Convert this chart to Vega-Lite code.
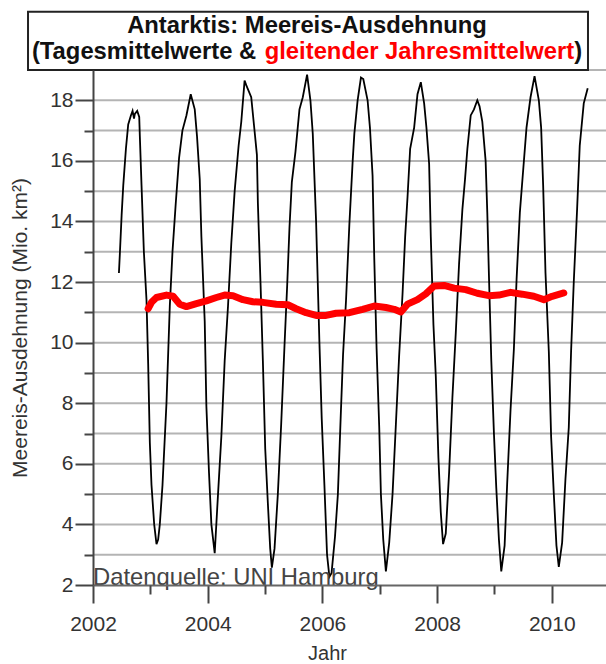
{
  "$schema": "https://vega.github.io/schema/vega-lite/v6.json",
  "width": 513,
  "height": 515,
  "autosize": {"type": "none"},
  "padding": {"left": 93, "top": 70, "right": 0, "bottom": 79},
  "background": "white",
  "config": {"font": "Liberation Sans", "view": {"stroke": null}},
  "resolve": {"axis": {"x": "independent", "y": "independent"}},
  "datasets": {
    "grid": [
      {"g": 3}, {"g": 4}, {"g": 5}, {"g": 6}, {"g": 7}, {"g": 8}, {"g": 9}, {"g": 10}, {"g": 11},
      {"g": 12}, {"g": 13}, {"g": 14}, {"g": 15}, {"g": 16}, {"g": 17}, {"g": 18}, {"g": 19}
    ],
    "daily": [
      {"t": 2002.452, "v": 12.3}, {"t": 2002.470, "v": 13.0}, {"t": 2002.499, "v": 14.2}, {"t": 2002.528, "v": 15.2},
      {"t": 2002.574, "v": 16.4}, {"t": 2002.614, "v": 17.2}, {"t": 2002.661, "v": 17.5}, {"t": 2002.690, "v": 17.65},
      {"t": 2002.715, "v": 17.4}, {"t": 2002.730, "v": 17.55}, {"t": 2002.771, "v": 17.65}, {"t": 2002.806, "v": 17.45},
      {"t": 2002.817, "v": 16.8}, {"t": 2002.846, "v": 15.2}, {"t": 2002.887, "v": 13.0}, {"t": 2002.933, "v": 11.4},
      {"t": 2002.962, "v": 9.3}, {"t": 2002.991, "v": 6.7}, {"t": 2003.020, "v": 5.3}, {"t": 2003.067, "v": 4.0},
      {"t": 2003.107, "v": 3.35}, {"t": 2003.136, "v": 3.5}, {"t": 2003.165, "v": 4.0}, {"t": 2003.212, "v": 5.3},
      {"t": 2003.281, "v": 8.0}, {"t": 2003.339, "v": 11.2}, {"t": 2003.386, "v": 13.0}, {"t": 2003.443, "v": 14.6},
      {"t": 2003.501, "v": 16.1}, {"t": 2003.559, "v": 17.0}, {"t": 2003.629, "v": 17.5}, {"t": 2003.704, "v": 18.2},
      {"t": 2003.774, "v": 17.7}, {"t": 2003.814, "v": 16.8}, {"t": 2003.861, "v": 15.4}, {"t": 2003.890, "v": 13.5},
      {"t": 2003.948, "v": 10.7}, {"t": 2003.977, "v": 7.9}, {"t": 2004.023, "v": 5.7}, {"t": 2004.064, "v": 4.0},
      {"t": 2004.122, "v": 3.05}, {"t": 2004.180, "v": 5.0}, {"t": 2004.238, "v": 6.9}, {"t": 2004.296, "v": 9.4},
      {"t": 2004.354, "v": 11.2}, {"t": 2004.412, "v": 13.3}, {"t": 2004.470, "v": 15.0}, {"t": 2004.539, "v": 16.5},
      {"t": 2004.586, "v": 17.3}, {"t": 2004.643, "v": 18.65}, {"t": 2004.672, "v": 18.5}, {"t": 2004.759, "v": 18.1},
      {"t": 2004.806, "v": 17.2}, {"t": 2004.858, "v": 16.2}, {"t": 2004.875, "v": 14.6}, {"t": 2004.922, "v": 11.9},
      {"t": 2004.962, "v": 9.4}, {"t": 2005.003, "v": 6.5}, {"t": 2005.049, "v": 4.7}, {"t": 2005.090, "v": 3.2},
      {"t": 2005.119, "v": 2.57}, {"t": 2005.165, "v": 3.2}, {"t": 2005.223, "v": 5.0}, {"t": 2005.281, "v": 7.3},
      {"t": 2005.339, "v": 9.9}, {"t": 2005.386, "v": 11.9}, {"t": 2005.426, "v": 13.8}, {"t": 2005.467, "v": 15.3},
      {"t": 2005.530, "v": 16.3}, {"t": 2005.600, "v": 17.7}, {"t": 2005.658, "v": 18.1}, {"t": 2005.733, "v": 18.85},
      {"t": 2005.791, "v": 18.0}, {"t": 2005.832, "v": 16.9}, {"t": 2005.890, "v": 14.0}, {"t": 2005.948, "v": 10.0},
      {"t": 2005.988, "v": 7.5}, {"t": 2006.035, "v": 5.3}, {"t": 2006.081, "v": 3.0}, {"t": 2006.122, "v": 2.27},
      {"t": 2006.160, "v": 2.4}, {"t": 2006.220, "v": 3.6}, {"t": 2006.270, "v": 5.0}, {"t": 2006.320, "v": 7.6},
      {"t": 2006.360, "v": 9.6}, {"t": 2006.412, "v": 11.4}, {"t": 2006.470, "v": 13.9}, {"t": 2006.528, "v": 16.0},
      {"t": 2006.557, "v": 16.9}, {"t": 2006.614, "v": 18.0}, {"t": 2006.672, "v": 18.75}, {"t": 2006.713, "v": 18.7},
      {"t": 2006.788, "v": 18.0}, {"t": 2006.829, "v": 17.1}, {"t": 2006.875, "v": 15.5}, {"t": 2006.904, "v": 12.8},
      {"t": 2006.945, "v": 9.8}, {"t": 2006.991, "v": 7.2}, {"t": 2007.020, "v": 5.0}, {"t": 2007.061, "v": 3.5},
      {"t": 2007.107, "v": 2.45}, {"t": 2007.165, "v": 3.4}, {"t": 2007.223, "v": 5.0}, {"t": 2007.281, "v": 7.3},
      {"t": 2007.339, "v": 9.6}, {"t": 2007.397, "v": 11.6}, {"t": 2007.443, "v": 13.5}, {"t": 2007.484, "v": 14.8},
      {"t": 2007.530, "v": 16.4}, {"t": 2007.600, "v": 17.1}, {"t": 2007.658, "v": 18.2}, {"t": 2007.716, "v": 18.6},
      {"t": 2007.774, "v": 17.9}, {"t": 2007.814, "v": 17.1}, {"t": 2007.861, "v": 15.9}, {"t": 2007.890, "v": 13.5},
      {"t": 2007.936, "v": 10.6}, {"t": 2007.977, "v": 8.9}, {"t": 2008.023, "v": 6.2}, {"t": 2008.064, "v": 4.4},
      {"t": 2008.104, "v": 3.35}, {"t": 2008.151, "v": 3.7}, {"t": 2008.209, "v": 5.7}, {"t": 2008.267, "v": 8.2},
      {"t": 2008.325, "v": 10.3}, {"t": 2008.383, "v": 12.6}, {"t": 2008.441, "v": 14.4}, {"t": 2008.487, "v": 15.4},
      {"t": 2008.528, "v": 16.4}, {"t": 2008.586, "v": 17.5}, {"t": 2008.643, "v": 17.7}, {"t": 2008.701, "v": 18.0},
      {"t": 2008.740, "v": 17.8}, {"t": 2008.788, "v": 17.3}, {"t": 2008.846, "v": 16.0}, {"t": 2008.875, "v": 14.3},
      {"t": 2008.904, "v": 12.2}, {"t": 2008.945, "v": 9.4}, {"t": 2008.991, "v": 7.0}, {"t": 2009.032, "v": 5.2},
      {"t": 2009.078, "v": 3.5}, {"t": 2009.119, "v": 2.45}, {"t": 2009.177, "v": 3.3}, {"t": 2009.223, "v": 5.4},
      {"t": 2009.281, "v": 7.8}, {"t": 2009.339, "v": 9.8}, {"t": 2009.386, "v": 12.1}, {"t": 2009.443, "v": 14.3},
      {"t": 2009.501, "v": 15.7}, {"t": 2009.559, "v": 17.1}, {"t": 2009.629, "v": 18.1}, {"t": 2009.699, "v": 18.8},
      {"t": 2009.774, "v": 18.0}, {"t": 2009.814, "v": 17.1}, {"t": 2009.849, "v": 15.2}, {"t": 2009.890, "v": 12.3},
      {"t": 2009.948, "v": 9.7}, {"t": 2009.988, "v": 6.9}, {"t": 2010.035, "v": 5.0}, {"t": 2010.081, "v": 3.3},
      {"t": 2010.122, "v": 2.6}, {"t": 2010.180, "v": 3.4}, {"t": 2010.238, "v": 5.5}, {"t": 2010.296, "v": 7.2},
      {"t": 2010.336, "v": 9.7}, {"t": 2010.383, "v": 12.0}, {"t": 2010.441, "v": 14.4}, {"t": 2010.487, "v": 16.5},
      {"t": 2010.557, "v": 17.9}, {"t": 2010.626, "v": 18.4}
    ],
    "avg": [
      {"t": 2002.962, "v": 11.12}, {"t": 2003.020, "v": 11.33}, {"t": 2003.107, "v": 11.49}, {"t": 2003.281, "v": 11.57},
      {"t": 2003.397, "v": 11.53}, {"t": 2003.513, "v": 11.27}, {"t": 2003.629, "v": 11.19}, {"t": 2003.803, "v": 11.29},
      {"t": 2003.977, "v": 11.38}, {"t": 2004.151, "v": 11.49}, {"t": 2004.296, "v": 11.57}, {"t": 2004.441, "v": 11.55},
      {"t": 2004.614, "v": 11.42}, {"t": 2004.788, "v": 11.35}, {"t": 2004.962, "v": 11.33}, {"t": 2005.194, "v": 11.27},
      {"t": 2005.397, "v": 11.25}, {"t": 2005.542, "v": 11.12}, {"t": 2005.716, "v": 10.99}, {"t": 2005.890, "v": 10.9},
      {"t": 2006.064, "v": 10.9}, {"t": 2006.238, "v": 10.97}, {"t": 2006.470, "v": 10.99}, {"t": 2006.701, "v": 11.1},
      {"t": 2006.904, "v": 11.21}, {"t": 2007.107, "v": 11.16}, {"t": 2007.252, "v": 11.1}, {"t": 2007.368, "v": 11.01},
      {"t": 2007.484, "v": 11.27}, {"t": 2007.658, "v": 11.42}, {"t": 2007.803, "v": 11.61}, {"t": 2007.948, "v": 11.87},
      {"t": 2008.122, "v": 11.89}, {"t": 2008.296, "v": 11.8}, {"t": 2008.499, "v": 11.75}, {"t": 2008.701, "v": 11.63},
      {"t": 2008.904, "v": 11.55}, {"t": 2009.078, "v": 11.57}, {"t": 2009.281, "v": 11.66}, {"t": 2009.484, "v": 11.6},
      {"t": 2009.687, "v": 11.53}, {"t": 2009.861, "v": 11.42}, {"t": 2010.006, "v": 11.53}, {"t": 2010.209, "v": 11.64}
    ],
    "box": [{"x1": 2000.867, "x2": 2010.631, "y1": 19.0, "y2": 20.925}],
    "title1": [{"x": 2005.731, "y": 20.45, "text": "Antarktis: Meereis-Ausdehnung"}],
    "title2": [
      {"x": 2000.935, "y": 19.6, "text": "(Tagesmittelwerte &", "c": "#111111"},
      {"x": 2004.994, "y": 19.6, "text": "gleitender Jahresmittelwert", "c": "#ff0000"},
      {"x": 2010.391, "y": 19.6, "text": ")", "c": "#111111"}
    ],
    "source": [{"x": 2002.0, "y": 2.0, "text": "Datenquelle: UNI Hamburg"}]
  },
  "layer": [
    {
      "data": {"name": "grid"},
      "mark": {"type": "rule", "color": "#b4b4b4", "strokeWidth": 2},
      "encoding": {
        "y": {"field": "g", "type": "quantitative", "axis": null,
              "scale": {"domain": [2, 19], "nice": false, "zero": false}}
      }
    },
    {
      "data": {"name": "daily"},
      "mark": {"type": "line", "color": "#000000", "strokeWidth": 1.8},
      "encoding": {
        "x": {
          "field": "t", "type": "quantitative", "title": "Jahr",
          "scale": {"domain": [2002, 2010.945], "nice": false, "zero": false},
          "axis": {
            "orient": "bottom", "zindex": 1,
            "values": [2002, 2004, 2006, 2008, 2010],
            "format": "d",
            "grid": false,
            "tickSize": 18, "tickColor": "#444444", "tickWidth": 2,
            "domainColor": "#666666", "domainWidth": 2,
            "labelFontSize": 21, "labelColor": "#333333", "labelPadding": 10, "labelFlush": false,
            "titleFontSize": 20, "titleFontWeight": "normal", "titleColor": "#333333",
            "titleX": 234, "titleY": 74, "titleBaseline": "alphabetic"
          }
        },
        "y": {
          "field": "v", "type": "quantitative", "title": "Meereis-Ausdehnung (Mio. km²)",
          "axis": {
            "orient": "left", "zindex": 1,
            "values": [2, 4, 6, 8, 10, 12, 14, 16, 18],
            "grid": false,
            "tickSize": 18, "tickColor": "#444444", "tickWidth": 2,
            "domainColor": "#444444", "domainWidth": 2,
            "labelFontSize": 21, "labelColor": "#333333", "labelPadding": 2, "labelFlush": false,
            "titleFontSize": 21, "titleFontWeight": "normal", "titleColor": "#333333",
            "titleX": -73, "titleBaseline": "middle"
          }
        }
      }
    },
    {
      "data": {"name": "avg"},
      "mark": {"type": "line", "color": "#ff0000", "strokeWidth": 7, "strokeJoin": "round", "strokeCap": "round"},
      "encoding": {
        "x": {
          "field": "t", "type": "quantitative", "title": null,
          "axis": {
            "orient": "bottom", "zindex": 1, "values": [2003, 2005, 2007, 2009], "labels": false, "grid": false,
            "domain": false, "tickSize": 9, "tickColor": "#444444", "tickWidth": 2, "title": null
          }
        },
        "y": {
          "field": "v", "type": "quantitative", "title": null,
          "axis": {
            "orient": "left", "zindex": 1, "values": [3, 5, 7, 9, 11, 13, 15, 17], "labels": false,
            "grid": false, "domain": false, "tickSize": 9, "tickColor": "#444444", "tickWidth": 2, "title": null
          }
        }
      }
    },
    {
      "data": {"name": "box"},
      "mark": {"type": "rect", "fill": "white", "stroke": "#222222", "strokeWidth": 2},
      "encoding": {
        "x": {"field": "x1", "type": "quantitative", "axis": null},
        "x2": {"field": "x2"},
        "y": {"field": "y1", "type": "quantitative", "axis": null},
        "y2": {"field": "y2"}
      }
    },
    {
      "data": {"name": "title1"},
      "mark": {"type": "text", "fontSize": 23.8, "fontWeight": "bold", "align": "center", "baseline": "middle", "color": "#111111"},
      "encoding": {
        "x": {"field": "x", "type": "quantitative", "axis": null},
        "y": {"field": "y", "type": "quantitative", "axis": null},
        "text": {"field": "text"}
      }
    },
    {
      "data": {"name": "title2"},
      "mark": {"type": "text", "fontSize": 23.8, "fontWeight": "bold", "align": "left", "baseline": "middle"},
      "encoding": {
        "x": {"field": "x", "type": "quantitative", "axis": null},
        "y": {"field": "y", "type": "quantitative", "axis": null},
        "text": {"field": "text"},
        "color": {"field": "c", "type": "nominal", "scale": null}
      }
    },
    {
      "data": {"name": "source"},
      "mark": {"type": "text", "fontSize": 23.8, "align": "left", "baseline": "alphabetic", "color": "#444444"},
      "encoding": {
        "x": {"field": "x", "type": "quantitative", "axis": null},
        "y": {"field": "y", "type": "quantitative", "axis": null},
        "text": {"field": "text"}
      }
    }
  ]
}
